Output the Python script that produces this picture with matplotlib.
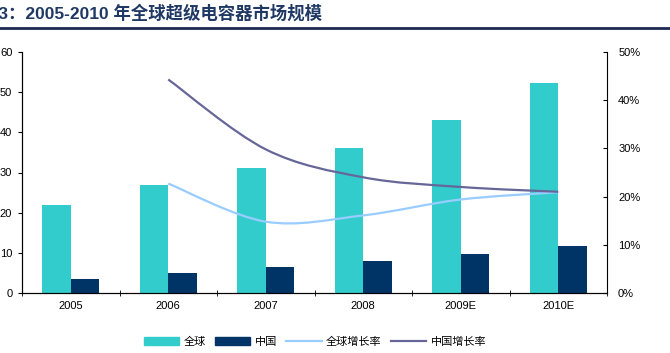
import numpy as np
import matplotlib.pyplot as plt
from matplotlib.path import Path
from matplotlib.patches import PathPatch, Patch
from matplotlib.lines import Line2D

plt.rcParams['font.family'] = ['Liberation Sans', 'Noto Sans CJK SC']

years = ['2005', '2006', '2007', '2008', '2009E', '2010E']
global_size = [22, 27, 31, 36, 43, 52.3]
china_size = [3.5, 4.9, 6.5, 7.9, 9.7, 11.6]
# growth rates start in 2006
global_growth = [22.7, 14.8, 16.1, 19.4, 20.9]
china_growth = [44.3, 29.8, 24.0, 22.0, 21.0]

c_global = '#33CCCC'
c_china = '#003366'
c_ggrowth = '#99CCFF'
c_cgrowth = '#666699'


def smooth_path(xs, ys):
    # Excel-style smoothed line: cubic Bezier through the points
    xs = np.asarray(xs, float)
    ys = np.asarray(ys, float)
    n = len(xs)
    verts = [(xs[0], ys[0])]
    codes = [Path.MOVETO]
    for i in range(n - 1):
        x0, y0 = (xs[i - 1], ys[i - 1]) if i > 0 else (xs[i], ys[i])
        x3, y3 = (xs[i + 2], ys[i + 2]) if i + 2 < n else (xs[i + 1], ys[i + 1])
        c1 = (xs[i] + (xs[i + 1] - x0) / 6, ys[i] + (ys[i + 1] - y0) / 6)
        c2 = (xs[i + 1] - (x3 - xs[i]) / 6, ys[i + 1] - (y3 - ys[i]) / 6)
        verts += [c1, c2, (xs[i + 1], ys[i + 1])]
        codes += [Path.CURVE4] * 3
    return Path(verts, codes)


fig = plt.figure(figsize=(6.7, 3.53), dpi=100)
ax = fig.add_axes([22 / 670, 1 - 293 / 353, 585 / 670, 241 / 353])

x = np.arange(len(years))
w = 0.29
ax.bar(x - w / 2, global_size, w, color=c_global, zorder=2)
ax.bar(x + w / 2, china_size, w, color=c_china, zorder=2)
ax.set_xlim(-0.5, len(years) - 0.5)
ax.set_ylim(0, 60)
ax.set_yticks(range(0, 61, 10))
ax.set_xticks(x)
ax.set_xticklabels(years)
ax.set_xticks(np.arange(-0.5, len(years), 1), minor=True)
ax.tick_params(axis='x', which='major', length=0, labelsize=8, pad=6)
ax.tick_params(axis='x', which='minor', length=4, direction='inout')
ax.tick_params(axis='y', length=3, labelsize=8, pad=4)
ax.spines['top'].set_visible(False)
ax.spines['right'].set_visible(False)

ax2 = ax.twinx()
ax2.set_ylim(0, 50)
ax2.set_yticks(range(0, 51, 10))
ax2.set_yticklabels([f'{v}%' for v in range(0, 51, 10)])
ax2.tick_params(axis='y', length=3, direction='in', labelsize=8, pad=8)
ax2.spines['top'].set_visible(False)
gx = x[1:]
ax2.add_patch(PathPatch(smooth_path(gx, global_growth), fill=False,
                        ec=c_ggrowth, lw=1.6))
ax2.add_patch(PathPatch(smooth_path(gx, china_growth), fill=False,
                        ec=c_cgrowth, lw=1.6))

handles = [Patch(color=c_global), Patch(color=c_china),
           Line2D([], [], color=c_ggrowth, lw=1.6),
           Line2D([], [], color=c_cgrowth, lw=1.6)]
labels = ['全球', '中国', '全球增长率', '中国增长率']
fig.legend(handles, labels, loc='center', bbox_to_anchor=(315 / 670, 1 - 342 / 353),
           ncol=4, frameon=False, fontsize=8, handlelength=3.2, handleheight=0.7,
           columnspacing=0.8, handletextpad=0.4,
           prop={'family': ['Noto Sans CJK SC'], 'size': 8})

fig.text(-19 / 670, 1 - 13 / 353, '图3：2005-2010 年全球超级电容器市场规模',
         fontsize=12.5, fontweight='bold', color='#1F3864', va='center', ha='left')
fig.add_artist(Line2D([0, 1], [1 - 28 / 353, 1 - 28 / 353], color='#1F2A50', lw=2))

fig.savefig('out.png', dpi=100)
